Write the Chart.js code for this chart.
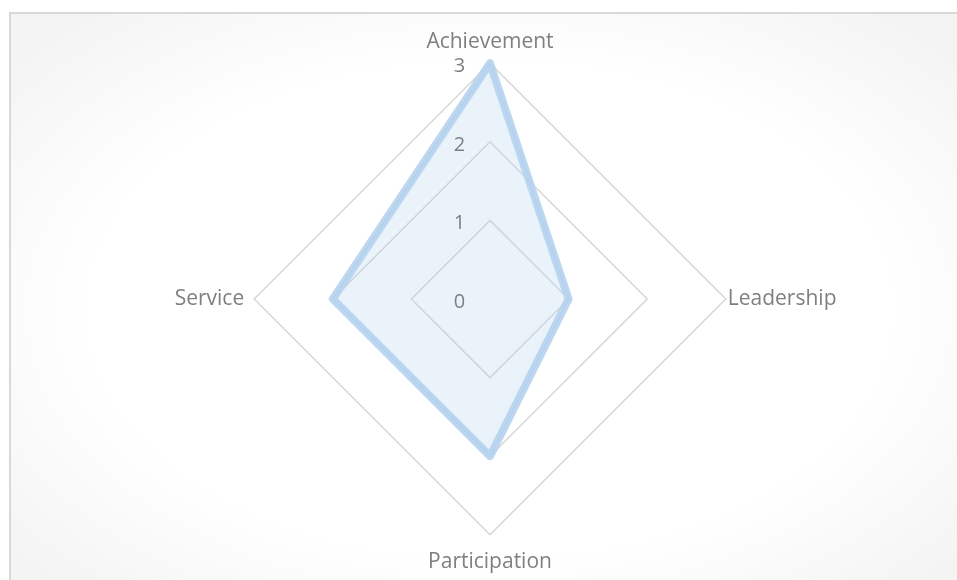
<!DOCTYPE html>
<html>
<head>
<meta charset="utf-8">
<script src="https://cdn.jsdelivr.net/npm/chart.js@4"></script>
<style>
  html, body { margin: 0; padding: 0; background: #ffffff; overflow: hidden; }
  #frame {
    position: absolute; left: 9px; top: 12px; width: 1000px; height: 620px;
    border: 2px solid #d9d9d9; box-sizing: border-box;
    background: radial-gradient(ellipse 62% 62% at 48% 48%, #ffffff 65%, #f4f4f4 100%);
  }
  #c { position: absolute; left: 0; top: 0; }
</style>
</head>
<body>
<div id="frame"></div>
<canvas id="c" width="957" height="580"></canvas>
<script>
// ---- data ----
const categories = ['Achievement', 'Leadership', 'Participation', 'Service'];
const scores = [3, 1, 2, 2];
const tickLabels = ['0', '1', '2', '3'];

// ---- styling / layout ----
const FONT_FAMILY = "'Open Sans'";
const LABEL_SIZE = 21;
const TICK_SIZE = 20;
const TEXT_COLOR = '#7f7f7f';
const labelPads = [9, 2, 15, 10];   // top, right, bottom, left
const CX = 490, CY = 300, R = 235.5;

// vertical label overflow determines the radius reduction in Chart.js' radial fit
const lh = LABEL_SIZE * 1.2;
const mT = lh + labelPads[0];
const mB = lh + labelPads[2];
const da0 = Math.ceil(R + Math.max(mT, mB));
const H = 2 * da0;
const padTop = CY - da0 - Math.floor((mT - mB) / 2);
const padBottom = 580 - H - padTop;
const Wbox = 800;
const padLeft = CX - Wbox / 2;
const padRight = 957 - Wbox - padLeft;

const tickPlugin = {
  id: 'leftTicks',
  afterDatasetsDraw(chart) {
    const s = chart.scales.r;
    const ctx = chart.ctx;
    ctx.save();
    ctx.font = 'normal ' + TICK_SIZE + 'px ' + FONT_FAMILY;
    ctx.fillStyle = TEXT_COLOR;
    ctx.textAlign = 'center';
    ctx.textBaseline = 'middle';
    s.ticks.forEach((t, i) => {
      const d = s.getDistanceFromCenterForValue(t.value);
      ctx.fillText(tickLabels[i], s.xCenter - 30.5, s.yCenter - d + 3);
    });
    ctx.restore();
  }
};

new Chart(document.getElementById('c'), {
  type: 'radar',
  data: {
    labels: categories,
    datasets: [
      {
        data: scores,
        borderColor: 'rgba(182, 211, 238, 0.9)',
        backgroundColor: 'rgba(189, 215, 238, 0.30)',
        borderWidth: 8,
        borderJoinStyle: 'round',
        fill: true,
        pointRadius: 0,
        pointHoverRadius: 0
      },
      {
        data: scores,
        borderColor: 'rgba(160, 192, 224, 0.7)',
        backgroundColor: 'rgba(0,0,0,0)',
        borderWidth: 2.5,
        borderJoinStyle: 'round',
        fill: false,
        pointRadius: 0,
        pointHoverRadius: 0
      }
    ]
  },
  options: {
    responsive: false,
    animation: false,
    devicePixelRatio: 1,
    layout: { padding: { top: padTop, bottom: padBottom, left: padLeft, right: padRight } },
    plugins: { legend: { display: false }, tooltip: { enabled: false } },
    scales: {
      r: {
        min: 0,
        max: 3,
        ticks: { stepSize: 1, display: false, callback: (v, i) => tickLabels[i] },
        grid: { color: '#d6d6d6', lineWidth: 1.5 },
        angleLines: { display: false },
        pointLabels: {
          color: TEXT_COLOR,
          font: { family: FONT_FAMILY, size: LABEL_SIZE },
          padding: ctx => labelPads[ctx.index]
        }
      }
    }
  },
  plugins: [tickPlugin]
});
</script>
</body>
</html>
